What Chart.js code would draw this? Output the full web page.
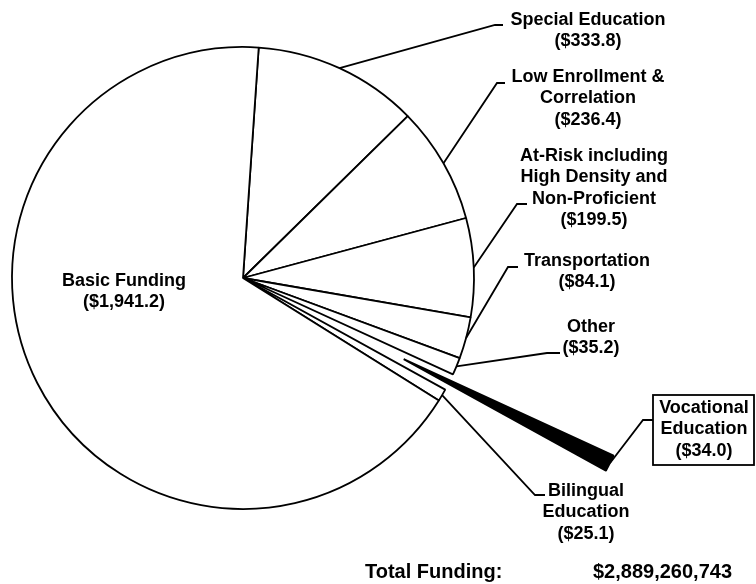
<!DOCTYPE html>
<html>
<head>
<meta charset="utf-8">
<script src="https://cdn.jsdelivr.net/npm/chart.js@4"></script>
<style>
    body { margin: 0; background: #fff; }
    #wrap { width: 756px; height: 584px; }
</style>
</head>
<body>
<div id="wrap"><canvas id="fundingChart"></canvas></div>
<script>
// Funding categories (millions of dollars), clockwise from the top
const categories = [
    'Special Education',
    'Low Enrollment &\nCorrelation',
    'At-Risk including\nHigh Density and\nNon-Proficient',
    'Transportation',
    'Other',
    'Vocational\nEducation',
    'Bilingual\nEducation',
    'Basic Funding'
];
const amounts = [333.8, 236.4, 199.5, 84.1, 35.2, 34.0, 25.1, 1941.2];
const totalLabel = 'Total Funding:';
const totalValue = '$2,889,260,743';

// Slice that is pulled out of the pie
const explodeIndex = 5;
const explodeDistance = 180;

// Label placement: text centre x, first line y, leader elbow and end x
const labelLayout = [
    { x: 588, y: 20, elbow: [495, 25], end: 503 },
    { x: 588, y: 77, elbow: [497, 83], end: 505 },
    { x: 594, y: 156, elbow: [517, 204], end: 527 },
    { x: 587, y: 261, elbow: [508, 267], end: 518 },
    { x: 591, y: 327, elbow: [547, 353], end: 560 },
    { x: 704, y: 408, elbow: [643, 420], end: 653, box: [653, 395, 101, 70] },
    { x: 586, y: 491, elbow: [535, 495], end: 545 },
    { x: 124, y: 281 }
];
const lineGap = 21.5;
const labelFont = 'bold 18px "Liberation Sans", Arial, sans-serif';

function formatAmount(v) {
    return '($' + v.toLocaleString('en-US', { minimumFractionDigits: 1, maximumFractionDigits: 1 }) + ')';
}

// Push the exploded slice outward along its middle angle
const explodePlugin = {
    id: 'explode',
    afterDatasetsUpdate(chart) {
        const arc = chart.getDatasetMeta(0).data[explodeIndex];
        const mid = (arc.startAngle + arc.endAngle) / 2;
        arc.x += Math.cos(mid) * explodeDistance;
        arc.y += Math.sin(mid) * explodeDistance;
    }
};

// Labels, leader lines and the total line
const labelPlugin = {
    id: 'labels',
    afterDatasetsDraw(chart) {
        const ctx = chart.ctx;
        const arcs = chart.getDatasetMeta(0).data;
        ctx.save();
        ctx.font = labelFont;
        ctx.fillStyle = '#000';
        ctx.strokeStyle = '#000';
        ctx.lineWidth = 1.8;
        ctx.textAlign = 'center';
        ctx.textBaseline = 'middle';

        categories.forEach((name, i) => {
            const pos = labelLayout[i];
            const lines = name.split('\n').concat(formatAmount(amounts[i]));
            lines.forEach((line, j) => ctx.fillText(line, pos.x, pos.y + j * lineGap));

            if (pos.elbow) {
                const arc = arcs[i];
                const mid = (arc.startAngle + arc.endAngle) / 2;
                const sx = arc.x + Math.cos(mid) * arc.outerRadius;
                const sy = arc.y + Math.sin(mid) * arc.outerRadius;
                ctx.beginPath();
                ctx.moveTo(sx, sy);
                ctx.lineTo(pos.elbow[0], pos.elbow[1]);
                ctx.lineTo(pos.end, pos.elbow[1]);
                ctx.stroke();
            }
            if (pos.box) {
                ctx.strokeRect(pos.box[0], pos.box[1], pos.box[2], pos.box[3]);
            }
        });

        ctx.font = 'bold 20px "Liberation Sans", Arial, sans-serif';
        ctx.textAlign = 'left';
        ctx.fillText(totalLabel, 365, 572);
        ctx.fillText(totalValue, 593, 572);
        ctx.restore();
    }
};

new Chart(document.getElementById('fundingChart'), {
    type: 'pie',
    data: {
        labels: categories,
        datasets: [{
            data: amounts,
            backgroundColor: amounts.map((v, i) => i === explodeIndex ? '#000' : '#fff'),
            borderColor: '#000',
            borderWidth: 1.8,
            clip: false
        }]
    },
    options: {
        responsive: true,
        maintainAspectRatio: false,
        animation: false,
        rotation: 3.9,
        radius: 231,
        layout: {
            padding: { left: 0, top: 0, right: 270, bottom: 28 }
        },
        plugins: {
            legend: { display: false },
            tooltip: { enabled: false }
        },
        events: []
    },
    plugins: [explodePlugin, labelPlugin]
});
</script>
</body>
</html>
